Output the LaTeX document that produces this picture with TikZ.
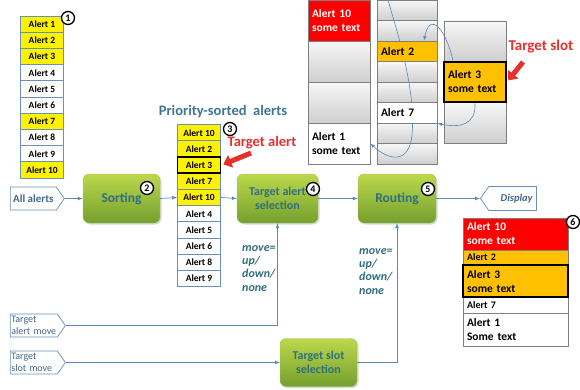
\documentclass[tikz,border=0pt]{standalone}
\usepackage{fontspec}
\setmainfont{Carlito}
\usetikzlibrary{arrows,arrows.meta,shapes.symbols,shadows}
\definecolor{cellline}{HTML}{6A8FB8}
\definecolor{connblue}{HTML}{5B87B8}
\definecolor{boxtop}{HTML}{BCD84C}
\definecolor{boxbot}{HTML}{74A02E}
\definecolor{boxline}{HTML}{A4C456}
\definecolor{boxtext}{HTML}{2F6F80}
\definecolor{alertred}{HTML}{FF0000}
\definecolor{alertorange}{HTML}{FFC000}
\definecolor{labelred}{HTML}{E8302A}
\definecolor{titleblue}{HTML}{3E7590}
\definecolor{screenline}{HTML}{7F7F7F}
\definecolor{sigtext}{HTML}{44678A}

\pgfdeclarelayer{back}
\pgfdeclarelayer{curves}
\pgfsetlayers{back,curves,main}

\begin{document}
\begin{tikzpicture}[x=1pt,y=-1pt]
    \tikzset{cell/.style = {draw=cellline, line width=0.8pt, fill=white, minimum width=43pt, minimum height=16.2pt, inner sep=0pt, font=\bfseries\fontsize{9.5}{9.5}\selectfont}}
    \tikzset{hot/.style = {cell, fill=yellow}}
    \tikzset{scell/.style = {draw=screenline, line width=0.8pt, top color=gray!6, bottom color=gray!38, minimum width=62pt, inner sep=0pt}}
    \tikzset{stext/.style = {draw=screenline, line width=0.8pt, text width=54pt, align=left, inner xsep=4pt, inner ysep=0pt, font=\bfseries\fontsize{11.5}{14}\selectfont}}
    \tikzset{ftext/.style = {draw=screenline, line width=0.8pt, text width=97pt, align=left, inner xsep=4pt, inner ysep=0pt, font=\bfseries\fontsize{11.5}{14}\selectfont}}
    \tikzset{proc/.style = {rounded corners=6pt, draw=boxline, top color=boxtop, bottom color=boxbot, text=boxtext, align=center, inner sep=0pt, drop shadow={opacity=0.3, shadow xshift=1.5pt, shadow yshift=-1.5pt}}}
    \tikzset{sig/.style = {signal, signal pointer angle=110, draw=cellline, line width=0.7pt, fill=white, text=sigtext, inner sep=1pt, anchor=west}}
    \tikzset{movetext/.style = {anchor=north west, align=left, text=boxtext, inner sep=0pt, font=\bfseries\itshape\fontsize{12}{13.3}\selectfont}}
    \tikzset{num/.style = {circle, draw, line width=1.3pt, fill=white, inner sep=0pt, minimum size=13pt, font=\bfseries\fontsize{10}{10}\selectfont}}
    \tikzset{conn/.style = {draw=connblue, line width=0.7pt, -latex}}
    \tikzset{flow/.style = {draw=connblue, line width=0.6pt, -latex}}
    \tikzset{redarrow/.style = {draw=labelred, line width=5pt, -{Triangle[length=8pt,width=13pt]}, shorten >=2pt}}
    \useasboundingbox (0,0) rectangle (580,389);

    % incoming alerts
    \node[hot]  (l1a) at (42,24.1)  {Alert 1};
    \node[hot]  (l1b) at (42,40.3)  {Alert 2};
    \node[hot]  (l1c) at (42,56.5)  {Alert 3};
    \node[cell] (l1d) at (42,72.7)  {Alert 4};
    \node[cell] (l1e) at (42,88.9)  {Alert 5};
    \node[cell] (l1f) at (42,105.1) {Alert 6};
    \node[hot]  (l1g) at (42,121.3) {Alert 7};
    \node[cell] (l1h) at (42,137.5) {Alert 8};
    \node[cell] (l1i) at (42,153.7) {Alert 9};
    \node[hot]  (l1j) at (42,169.9) {Alert 10};

    % sorted alerts
    \node[text=titleblue, font=\bfseries\fontsize{14.5}{14.5}\selectfont] (title) at (223,112) {Priority-sorted\ \ alerts};
    \node[hot]  (l3a) at (199,132.7) {Alert 10};
    \node[hot]  (l3b) at (199,148.9) {Alert 2};
    \node[hot]  (l3d) at (199,181.3) {Alert 7};
    \node[hot]  (l3e) at (199,197.5) {Alert 10};
    \node[cell] (l3f) at (199,213.7) {Alert 4};
    \node[cell] (l3g) at (199,229.9) {Alert 5};
    \node[cell] (l3h) at (199,246.1) {Alert 6};
    \node[cell] (l3i) at (199,262.3) {Alert 8};
    \node[cell] (l3j) at (199,278.5) {Alert 9};
    \node[hot, draw=black, line width=1.8pt] (l3c) at (199,165.1) {Alert 3};
    \node[text=labelred, font=\bfseries\fontsize{14.5}{14.5}\selectfont] (talbl) at (262,143) {Target alert};

    % processing blocks
    \node[proc, minimum width=77pt, minimum height=49pt, font=\bfseries\fontsize{13.5}{13.5}\selectfont] (sorting) at (121.5,198.5) {Sorting};
    \node[proc, minimum width=81pt, minimum height=49pt, font=\bfseries\fontsize{12}{14}\selectfont] (tas) at (277.5,198.5) {Target alert\\selection};
    \node[proc, minimum width=78pt, minimum height=49pt, font=\bfseries\fontsize{13.5}{13.5}\selectfont] (routing) at (397,198.5) {Routing};
    \node[proc, minimum width=77pt, minimum height=48pt, font=\bfseries\fontsize{12}{14}\selectfont] (tss) at (318.5,362.5) {Target slot\\selection};

    % inputs and output
    \node[sig, signal to=east, minimum width=54pt, minimum height=23pt, font=\bfseries\fontsize{11}{11}\selectfont] (allalerts) at (10,198.5) {All alerts};
    \node[sig, signal to=west, minimum width=56pt, minimum height=24pt, font=\bfseries\itshape\fontsize{10.5}{10.5}\selectfont] (display) at (480,198.5) {\hspace{8pt}Display};
    \node[sig, signal to=east, minimum height=23pt, text width=45pt, align=left, font=\fontsize{10}{12.5}\selectfont] (tam) at (10,325.5) {Target\\alert move};
    \node[sig, signal to=east, minimum height=23pt, text width=45pt, align=left, font=\fontsize{10}{12.5}\selectfont] (tsm) at (10,362.5) {Target\\slot move};

    \node[movetext] (mv1) at (242,245) {move=\\up/\\down/\\none};
    \node[movetext] (mv2) at (359,248) {move=\\up/\\down/\\none};

    % screens
    \node[stext, fill=alertred, text=white, minimum height=41pt] (a1) at (339,20.5) {Alert 10\\some text};
    \node[stext, fill=white, minimum height=41pt] (a4) at (339,143.5) {Alert 1\\some text};
    \node[stext, fill=alertorange, text width=52pt, minimum height=20.5pt] (b3) at (407,51.25) {Alert 2};
    \node[stext, fill=white, text width=52pt, minimum height=20.5pt] (b6) at (407,112.75) {Alert 7};
    \node[stext, fill=alertorange, draw=black, line width=2pt, minimum height=40.7pt] (c2) at (475,82) {Alert 3\\some text};
    \begin{pgfonlayer}{back}
    \node[scell, minimum height=41pt] (a2) at (339,61.5) {};
    \node[scell, minimum height=41pt] (a3) at (339,102.5) {};
    \node[scell, minimum width=60pt, minimum height=20.5pt] (b1) at (407,10.25) {};
    \node[scell, minimum width=60pt, minimum height=20.5pt] (b2) at (407,30.75) {};
    \node[scell, minimum width=60pt, minimum height=20.5pt] (b4) at (407,71.75) {};
    \node[scell, minimum width=60pt, minimum height=20.5pt] (b5) at (407,92.25) {};
    \node[scell, minimum width=60pt, minimum height=20.5pt] (b7) at (407,133.25) {};
    \node[scell, minimum width=60pt, minimum height=20.5pt] (b8) at (407,153.75) {};
    \node[scell, minimum height=40.7pt] (c1) at (475,41.3) {};
    \node[scell, minimum height=40.7pt] (c3) at (475,122.7) {};
    \end{pgfonlayer}
    \node[text=labelred, font=\bfseries\fontsize{15}{15}\selectfont] (tslbl) at (541,47) {Target slot};

    % display
    \node[ftext, fill=alertred, text=white, minimum height=32pt] (f1) at (515.5,234) {Alert 10\\some text};
    \node[ftext, fill=alertorange, minimum height=15pt, font=\bfseries\fontsize{10}{10}\selectfont] (f2) at (515.5,257.5) {Alert 2};
    \node[ftext, fill=white, minimum height=16pt, font=\bfseries\fontsize{10}{10}\selectfont] (f4) at (515.5,305) {Alert 7};
    \node[ftext, fill=white, minimum height=33pt] (f5) at (515.5,329.5) {Alert 1\\Some text};
    \node[ftext, fill=alertorange, draw=black, line width=2pt, minimum height=32pt] (f3) at (515.5,281) {Alert 3\\some text};

    % numbers
    \node[num] (n1) at (68,18)   {1};
    \node[num] (n2) at (147,188) {2};
    \node[num] (n3) at (230,129) {3};
    \node[num] (n4) at (313,189) {4};
    \node[num] (n5) at (428,189) {5};
    \node[num] (n6) at (573,222) {6};

    % edges
    \draw[conn] (allalerts.east) -- (sorting.west);
    \draw[conn] (sorting.east) -- (l3e.west);
    \draw[conn] (l3e.east) -- (tas.west);
    \draw[conn] (tas.east) -- (routing.west);
    \draw[conn] (routing.east) -- (display.west);
    \draw[conn] (tam.east) -| (tas.south);
    \draw[conn] (tsm.east) -- (tss.west);
    \draw[conn] (tss.east) -| (routing.south);

    \coordinate (talead) at (251,153);
    \draw[redarrow] (talead) -- (l3c.east);
    \coordinate (tslead) at (523,62);
    \draw[redarrow] (tslead) -- (c2.east);

    \coordinate (feed) at (388,0);
    \begin{pgfonlayer}{curves}
    \draw[flow] (feed) .. controls (398,35) and (416,90) .. (412,135) .. controls (409,165) and (388,160) .. (a4.east);
    \draw[flow] ([xshift=-22pt]c2.north) .. controls (446,30) and (430,10) .. ([xshift=17pt]b3.north);
    \draw[flow] (c2.south) .. controls (476,125) and (460,128) .. (b6.south east);
    \end{pgfonlayer}
\end{tikzpicture}
\end{document}
